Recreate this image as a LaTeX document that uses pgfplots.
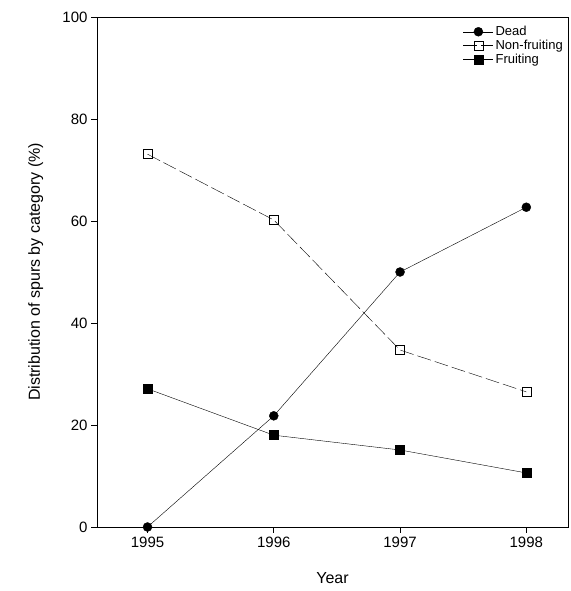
\documentclass[border=0pt]{standalone}
\usepackage{pgfplots}
\pgfplotsset{compat=1.18}
\usepackage{fontspec}
\setmainfont{Liberation Sans}
\begin{document}
\begin{tikzpicture}
\begin{axis}[name=ax,
  scale only axis, width=471pt, height=510pt,
  xmin=1994.6, xmax=1998.33, ymin=0, ymax=100,
  xtick={1995,1996,1997,1998}, ytick={0,20,40,60,80,100},
  xticklabel style={/pgf/number format/1000 sep={}},
  /pgf/number format/assume math mode=true,
  tick align=outside, tick pos=left,
  major tick length=6pt,
  axis line style={line width=0.8pt},
  tick style={black, line width=0.8pt},
  ticklabel style={font=\fontsize{15}{17}\selectfont},
  xlabel={Year}, ylabel={Distribution of spurs by category (\%)},
  label style={font=\fontsize{16}{18}\selectfont},
  xlabel style={at={(axis description cs:0.5,-0.1)}, anchor=center},
  ylabel style={at={(axis description cs:-0.13,0.5)}, anchor=center},
  legend style={draw=none, fill=none, at={(1,0.99)}, anchor=north east, font=\fontsize{13}{15}\selectfont, row sep=-1pt},
  legend cell align=left,
  legend image code/.code={\draw[#1] (0pt,0pt) -- (30pt,0pt); \draw[#1, only marks] plot coordinates {(15pt,0pt)};},
]
\addplot[black, mark=*, mark size=4.5pt] coordinates {(1995,0) (1996,21.8) (1997,50) (1998,62.7)};
\addlegendentry{Dead}
\addplot[black, dash pattern=on 14pt off 4pt, mark=square, mark size=4.5pt, mark options={solid, fill=white}] coordinates {(1995,73.1) (1996,60.2) (1997,34.7) (1998,26.5)};
\addlegendentry{Non-fruiting}
\addplot[black, mark=square*, mark size=4.5pt] coordinates {(1995,27.1) (1996,18) (1997,15.1) (1998,10.6)};
\addlegendentry{Fruiting}
\end{axis}
\pgfresetboundingbox
\path (ax.south west) ++(-97pt,-64pt) rectangle ++(570pt,591pt);
\end{tikzpicture}
\end{document}
